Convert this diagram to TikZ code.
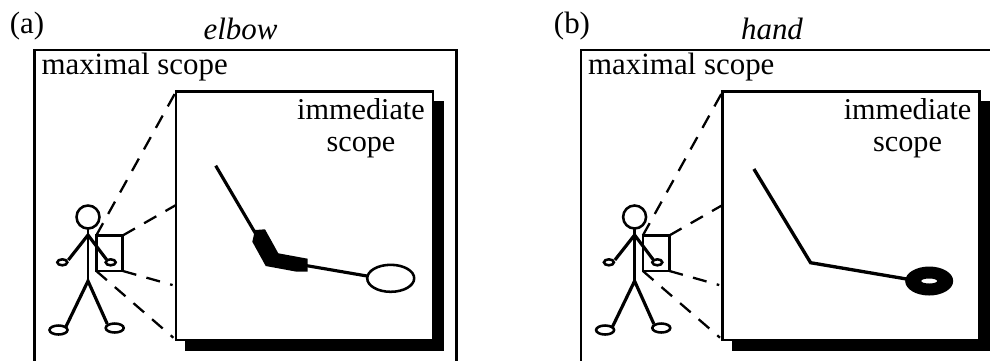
\documentclass[tikz,border=0pt]{standalone}
\usepackage{fontspec}
\setmainfont{Liberation Serif}
\tikzset{
    frameline/.style={line width=1.45pt},
    limb/.style={line width=1.8pt},
    foot/.style={line width=1.45pt,fill=white},
    zoomline/.style={line width=1.3pt,dash pattern=on 8pt off 6pt},
    label/.style={font=\fontsize{17.6}{18.2}\selectfont,inner sep=0pt,outer sep=0pt},
    scopebox/.style={draw,frameline,fill=white,inner sep=0pt,outer sep=0pt,
        minimum width=5.14cm,minimum height=4.97cm},
    shadowbox/.style={fill=black,inner sep=0pt,outer sep=0pt,
        minimum width=5.18cm,minimum height=5cm},
    zoombox/.style={draw,frameline,inner sep=0pt,outer sep=0pt,
        minimum width=.53cm,minimum height=.71cm}
}
% frames, figure and zoom lines shared by both panels
\newcommand{\scopepanel}{
    \draw[frameline] (34.5,365) |- (456.5,50) -- (456.5,365);
    \node[label,anchor=base west] (maximal) at (41.5,74) {maximal scope};
    \node[shadowbox] (shadow) at (314.5,226) {};
    \node[scopebox] (immediate) at (304.5,215.75) {};
    \node[label,font=\fontsize{17.2}{18.2}\selectfont,align=center,anchor=base] (immtext) at (361,151) {immediate\\scope};
    % stick figure
    \node[draw,frameline,circle,inner sep=0pt,outer sep=0pt,minimum size=.46cm] (head) at (88,217) {};
    \coordinate (shoulder) at (88,235);
    \coordinate (hip) at (88,281);
    \draw[frameline] (head) -- (hip);
    \draw[limb] (66,326.5) -- (hip) -- (107.3,324);
    \draw[limb] (68.3,260) -- (shoulder) -- (106.5,259.5);
    \draw[foot] (62.3,262.3) ellipse (5 and 3);
    \draw[foot] (110.7,262.3) ellipse (5 and 3);
    \draw[foot] (58.5,330) ellipse (9 and 4.5);
    \draw[foot] (114.7,328) ellipse (9 and 4.5);
    % zoom lines
    \node[zoombox] (zoom) at (109.5,253.2) {};
    \coordinate (upper) at (176,205);
    \coordinate (lower) at (176,286);
    \draw[zoomline] (zoom.north west) -- (immediate.north west);
    \draw[zoomline] (zoom.north east) -- (upper);
    \draw[zoomline,shorten >=2pt] (zoom.south east) -- (lower);
    \draw[zoomline,shorten >=2pt] (zoom.south west) -- (immediate.south west);
}
\begin{document}
\begin{tikzpicture}[x=.02cm,y=-.02cm]
    \useasboundingbox (0,0) rectangle (990,360);
    \clip (0,0) rectangle (990,360);
    \node[label] (a) at (27,26) {(a)};
    \node[label] (b) at (572,26) {(b)};
    \node[label,anchor=base] (elbow) at (240.5,39) {\itshape elbow};
    \node[label,anchor=base] (hand) at (772,39) {\itshape hand};

    \begin{scope}[name prefix=a-]
        \scopepanel
        % arm with thick elbow
        \draw[limb] (215.7,165.7) -- (257,236);
        \fill (255,230) -- (265,229.3) -- (278.3,253.3) -- (307.7,258.7) -- (307.7,271.7)
            -- (296.7,271.7) -- (265.7,266) -- (252.3,241.7) -- cycle;
        \draw[limb] (307,265.7) -- (367,276);
        \draw[frameline] (390.7,278.3) ellipse (23.5 and 13.5);
    \end{scope}

    \begin{scope}[name prefix=b-,xshift=10.934cm]
        \scopepanel
        % arm with thick hand
        \draw[line width=1.9pt,line join=miter] (207.3,169) -- (264,262.7) -- (360,279);
        \fill[even odd rule] (382.6,281) ellipse (24 and 14.5) (382.6,281) ellipse (8 and 2.5);
    \end{scope}
\end{tikzpicture}
\end{document}
